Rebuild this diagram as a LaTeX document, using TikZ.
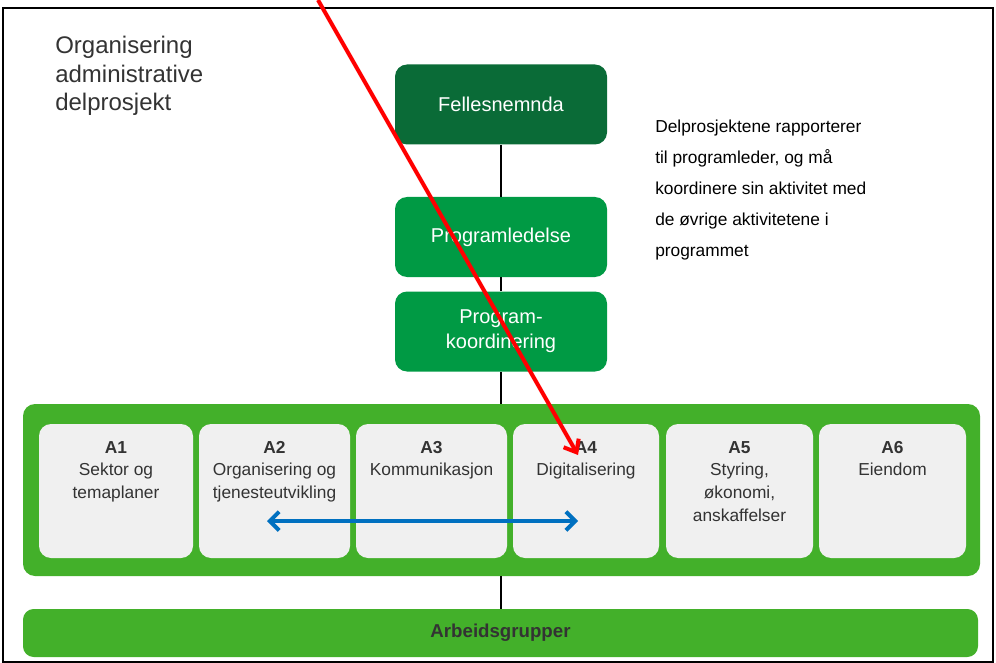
\documentclass[tikz,border=0pt]{standalone}
\usepackage{fontspec}
\setmainfont{Liberation Sans}
\usetikzlibrary{arrows.meta}
\definecolor{darkgr}{HTML}{0A6B37}
\definecolor{midgr}{HTML}{009A44}
\definecolor{lightgr}{HTML}{43B02A}
\definecolor{boxgray}{HTML}{F0F0F0}
\definecolor{txtgray}{HTML}{333333}
\definecolor{arrred}{HTML}{FF0000}
\definecolor{arrblue}{HTML}{0070C0}
\tikzset{
  topbox/.style={rounded corners=9pt, text=white, align=center, minimum width=159pt, minimum height=60pt, inner sep=0pt, font=\fontsize{15}{18.75}\selectfont},
  abox/.style={rounded corners=9pt, fill=boxgray, draw=none, minimum height=100.5pt, inner sep=0pt},
  albl/.style={anchor=north, align=center, text=txtgray, font=\fontsize{13}{17}\selectfont},
  conn/.style={draw=black, line width=1pt},
}
\begin{document}
\begin{tikzpicture}[x=0.75pt,y=-0.75pt]
\useasboundingbox (0,0) rectangle (996,663);
% frame
\draw[line width=1.5pt] (3,8) rectangle (993,662);
% title
\node[anchor=north west, align=left, text=txtgray, font=\fontsize{18}{21.5}\selectfont, inner sep=0pt] (title) at (55,36) {Organisering\\administrative\\delprosjekt};
% top boxes
\node[topbox, fill=darkgr] (fn) at (501,104.5) {Fellesnemnda};
\node[topbox, fill=midgr] (pl) at (501,237) {Programledelse};
\node[topbox, fill=midgr] (pk) at (501,331.5) {Program-\\koordinering};
% side text
\node[anchor=north west, align=left, text=black, font=\fontsize{13}{23.2}\selectfont, inner sep=0pt] (side) at (655,120) {Delprosjektene rapporterer\\til programleder, og må\\koordinere sin aktivitet med\\de øvrige aktivitetene i\\programmet};
% big green
\node[rounded corners=9pt, fill=lightgr, minimum width=717.75pt, minimum height=129pt, inner sep=0pt] (big) at (501.5,490) {};
\node[rounded corners=8pt, fill=lightgr, minimum width=716.25pt, minimum height=36pt, inner sep=0pt, font=\bfseries\fontsize{14}{16}\selectfont, text=txtgray] (ag) at (500.5,633) {Arbeidsgrupper};
% connectors
\draw[conn] (fn.south) -- (pl.north);
\draw[conn] (pl.south) -- (pk.north);
\draw[conn] (pk.south) -- (pk.south |- big.north);
\draw[conn] (big.south -| pk.south) -- (ag.north -| pk.south);
% A boxes
\node[abox, minimum width=115.5pt] (a1) at (116,491) {};
\node[abox, minimum width=113.25pt] (a2) at (274.5,491) {};
\node[abox, minimum width=113.25pt] (a3) at (431.5,491) {};
\node[abox, minimum width=109.5pt] (a4) at (586,491) {};
\node[abox, minimum width=110.25pt] (a5) at (739.5,491) {};
\node[abox, minimum width=110.25pt] (a6) at (892.5,491) {};
\node[albl] (l1) at ([yshift=-9.5pt]a1.north) {\textbf{A1}\\Sektor og\\temaplaner};
\node[albl] (l2) at ([yshift=-9.5pt]a2.north) {\textbf{A2}\\Organisering og\\tjenesteutvikling};
\node[albl] (l3) at ([yshift=-9.5pt]a3.north) {\textbf{A3}\\Kommunikasjon};
\node[albl] (l4) at ([yshift=-9.5pt]a4.north) {\textbf{A4}\\Digitalisering};
\node[albl] (l5) at ([yshift=-9.5pt]a5.north) {\textbf{A5}\\Styring,\\økonomi,\\anskaffelser};
\node[albl] (l6) at ([yshift=-9.5pt]a6.north) {\textbf{A6}\\Eiendom};
% blue double arrow
\coordinate (bl) at (267,521);
\coordinate (br) at (578,521);
\draw[arrblue, line width=3pt, {Straight Barb[length=7pt,width=14pt]}-{Straight Barb[length=7pt,width=14pt]}] (bl) -- (br);
% red arrow
\coordinate (rs) at (318,0);
\coordinate (re) at (578,455);
\draw[arrred, line width=3pt, -{Straight Barb[length=8pt,width=13pt]}] (rs) -- (re);
\end{tikzpicture}
\end{document}
